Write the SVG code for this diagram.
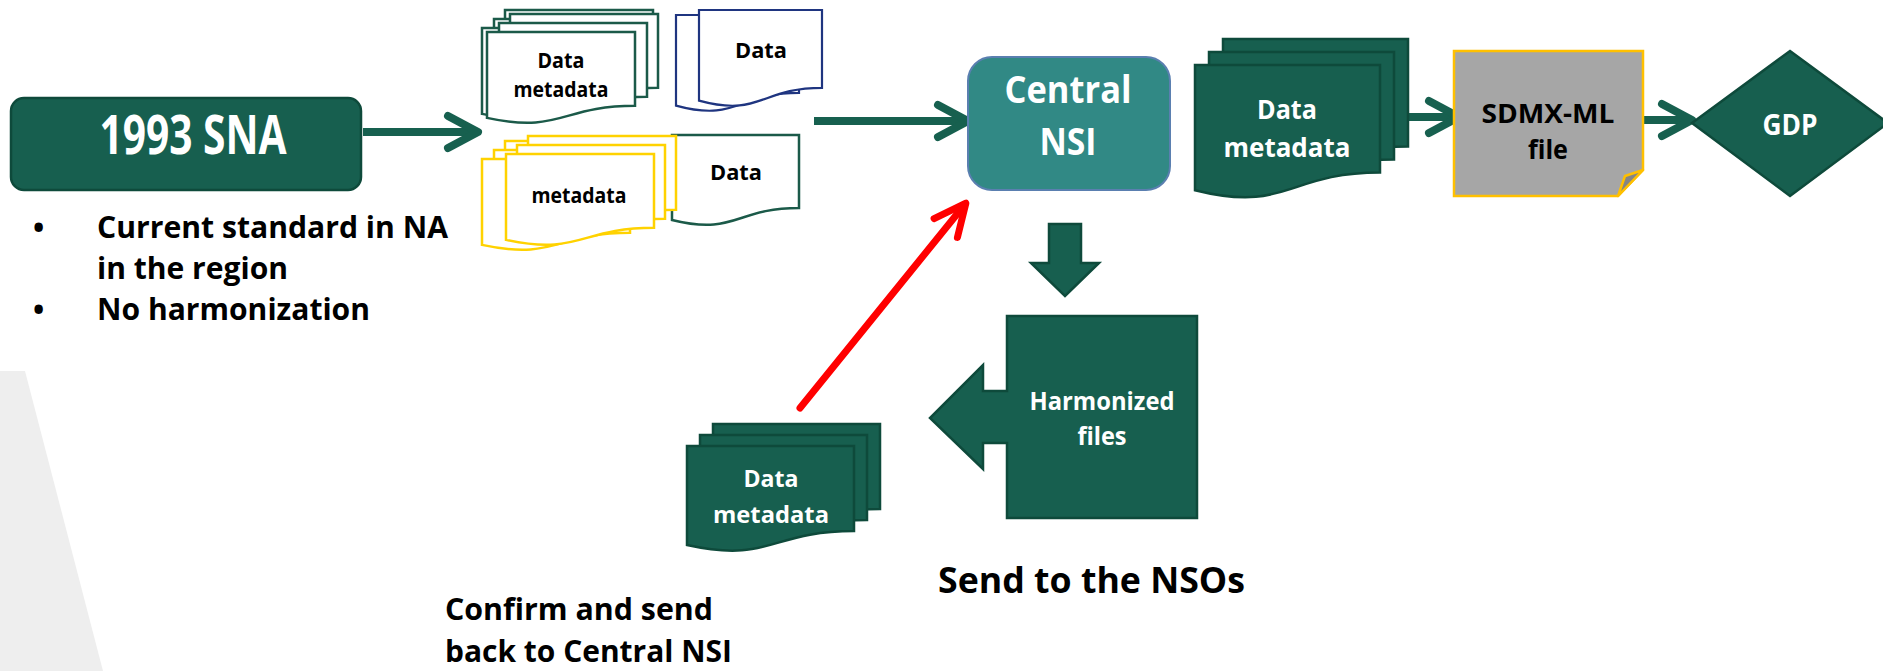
<svg xmlns="http://www.w3.org/2000/svg" xmlns:xlink="http://www.w3.org/1999/xlink" width="1883" height="671" viewBox="0 0 1883 671">
<style>
text{font-family:"Open Sans","Liberation Sans",Arial,sans-serif;font-weight:bold;}
.w{fill:#ffffff;text-anchor:middle;}
.k{fill:#000000;text-anchor:middle;}
.ks{fill:#000000;text-anchor:start;}
.dg{fill:#175f4f;stroke:#0e4a3b;stroke-width:2.5;}
.og{fill:#ffffff;stroke:#1b5a49;stroke-width:2.5;}
.oy{fill:#ffffff;stroke:#ffd200;stroke-width:2.5;}
.ob{fill:#ffffff;stroke:#1f3580;stroke-width:2.2;}
.conn{fill:none;stroke:#17604f;stroke-width:8;}
.red{fill:none;stroke:#ff0000;stroke-width:7;stroke-linecap:round;}
</style>
<defs>
<path id="docS" d="M0,0H148V73.8C74,73.8 74,101.9 0,85.9Z"/>
<path id="docB" d="M0,0H123V77.8C61.5,77.8 61.5,107.4 0,90.6Z"/>
<path id="docG" d="M0,0H127V73C63.5,73 63.5,100.8 0,85Z"/>
<path id="docR" d="M0,0H185V107.5C92.5,107.5 92.5,148.4 0,125.2Z"/>
<path id="docL" d="M0,0H167V85C83.5,85 83.5,117.4 0,99Z"/>
<marker id="chev" markerUnits="userSpaceOnUse" viewBox="0 0 40 40" markerWidth="40" markerHeight="40" refX="30" refY="20" orient="auto" overflow="visible">
<path d="M3,4 L33,20 L3,36" fill="none" stroke="#17604f" stroke-width="8" stroke-linecap="round" stroke-linejoin="round"/>
</marker>
<marker id="chevR" markerUnits="userSpaceOnUse" viewBox="0 0 40 40" markerWidth="40" markerHeight="40" refX="31" refY="20" orient="auto" overflow="visible">
<path d="M2,5 L34,20 L2,35" fill="none" stroke="#ff0000" stroke-width="7" stroke-linecap="round" stroke-linejoin="round"/>
</marker>
</defs>

<rect width="1883" height="671" fill="#ffffff"/>
<polygon points="0,371 25,371 103,671 0,671" fill="#eeeeee"/>

<g id="connectors">
<path class="conn" d="M363,132 H475" marker-end="url(#chev)"/>
<path class="conn" d="M814,121 H965" marker-end="url(#chev)"/>
<path class="conn" d="M1409,117 H1456" marker-end="url(#chev)"/>
<path class="conn" d="M1643,120 H1689" marker-end="url(#chev)"/>
<path class="red" d="M800,408 L964,205.5" marker-end="url(#chevR)"/>
<polygon class="dg" stroke-width="1.5" points="1049,224 1081,224 1081,263 1099,263 1065,296 1031,263 1049,263"/>
</g>

<g id="node-sna">
<rect x="11" y="98" width="350" height="92" rx="13" class="dg" stroke-width="2"/>
<text class="w" x="193" y="154" font-size="54" textLength="187" lengthAdjust="spacingAndGlyphs">1993 SNA</text>
<text class="ks" x="33" y="238" font-size="30">•</text>
<text class="ks" x="97" y="238" font-size="30" textLength="351" lengthAdjust="spacingAndGlyphs">Current standard in NA</text>
<text class="ks" x="97" y="279" font-size="30" textLength="191" lengthAdjust="spacingAndGlyphs">in the region</text>
<text class="ks" x="33" y="320" font-size="30">•</text>
<text class="ks" x="97" y="320" font-size="30" textLength="273" lengthAdjust="spacingAndGlyphs">No harmonization</text>
</g>

<g id="node-data-metadata-1">
<use href="#docS" x="505" y="10" class="og"/>
<use href="#docS" x="494" y="19" class="og"/>
<use href="#docS" x="482" y="28" class="og"/>
<use href="#docS" x="510" y="14" class="og"/>
<use href="#docS" x="499" y="23" class="og"/>
<use href="#docS" x="487" y="32" class="og"/>
<text class="k" x="561" y="68" font-size="21" textLength="47" lengthAdjust="spacingAndGlyphs">Data</text>
<text class="k" x="561" y="97" font-size="21" textLength="95" lengthAdjust="spacingAndGlyphs">metadata</text>
</g>

<g id="node-data-blue">
<use href="#docB" x="676" y="15" class="ob"/>
<use href="#docB" x="699" y="10" class="ob"/>
<text class="k" x="761" y="58" font-size="21" textLength="52" lengthAdjust="spacingAndGlyphs">Data</text>
</g>

<g id="node-data-green">
<use href="#docG" x="672" y="135" class="og"/>
<text class="k" x="736" y="180" font-size="21" textLength="52" lengthAdjust="spacingAndGlyphs">Data</text>
</g>

<g id="node-metadata-yellow">
<use href="#docS" x="505" y="141" class="oy"/>
<use href="#docS" x="494" y="150" class="oy"/>
<use href="#docS" x="482" y="159" class="oy"/>
<use href="#docS" x="528" y="136" class="oy"/>
<use href="#docS" x="517" y="145" class="oy"/>
<use href="#docS" x="506" y="154" class="oy"/>
<text class="k" x="579" y="203" font-size="21" textLength="95" lengthAdjust="spacingAndGlyphs">metadata</text>
</g>

<g id="node-central-nsi">
<rect x="968" y="57" width="202" height="133" rx="24" fill="#318985" stroke="#5a7fb0" stroke-width="2"/>
<text class="w" x="1068" y="103" font-size="37" textLength="127" lengthAdjust="spacingAndGlyphs">Central</text>
<text class="w" x="1068" y="155" font-size="37" textLength="57" lengthAdjust="spacingAndGlyphs">NSI</text>
</g>

<g id="node-data-metadata-2">
<use href="#docR" x="1223" y="39" class="dg"/>
<use href="#docR" x="1209" y="52" class="dg"/>
<use href="#docR" x="1195" y="65" class="dg"/>
<text class="w" x="1287" y="119" font-size="27" textLength="60" lengthAdjust="spacingAndGlyphs">Data</text>
<text class="w" x="1287" y="157" font-size="27" textLength="127" lengthAdjust="spacingAndGlyphs">metadata</text>
</g>

<g id="node-sdmx">
<polygon points="1454,51 1643,51 1643,170 1618,196 1454,196" fill="#a6a6a6" stroke="#ffc000" stroke-width="2.5"/>
<polygon points="1643,170 1625,176 1618,196" fill="#858585" stroke="#ffc000" stroke-width="2.5" stroke-linejoin="round"/>
<text class="k" x="1548" y="123" font-size="27" textLength="133" lengthAdjust="spacingAndGlyphs">SDMX-ML</text>
<text class="k" x="1548" y="159" font-size="27" textLength="40" lengthAdjust="spacingAndGlyphs">file</text>
</g>

<g id="node-gdp">
<polygon points="1790,51 1888,123 1790,196 1692,123" class="dg" stroke-width="2"/>
<text class="w" x="1790" y="135" font-size="28" textLength="55" lengthAdjust="spacingAndGlyphs">GDP</text>
</g>

<g id="node-harmonized">
<polygon points="1007,316 1197,316 1197,518 1007,518 1007,443 983,443 983,469 930,418 983,365 983,391 1007,391" class="dg" stroke-width="2"/>
<text class="w" x="1102" y="410" font-size="25" textLength="145" lengthAdjust="spacingAndGlyphs">Harmonized</text>
<text class="w" x="1102" y="445" font-size="25" textLength="49" lengthAdjust="spacingAndGlyphs">files</text>
</g>

<g id="node-data-metadata-3">
<use href="#docL" x="713" y="424" class="dg"/>
<use href="#docL" x="700" y="435" class="dg"/>
<use href="#docL" x="687" y="446" class="dg"/>
<text class="w" x="771" y="487" font-size="24" textLength="55" lengthAdjust="spacingAndGlyphs">Data</text>
<text class="w" x="771" y="523" font-size="24" textLength="116" lengthAdjust="spacingAndGlyphs">metadata</text>
</g>

<g id="label-send">
<text class="ks" x="938" y="593" font-size="35" textLength="307" lengthAdjust="spacingAndGlyphs">Send to the NSOs</text>
</g>

<g id="label-confirm">
<text class="ks" x="445" y="620" font-size="30" textLength="268" lengthAdjust="spacingAndGlyphs">Confirm and send</text>
<text class="ks" x="445" y="662" font-size="30" textLength="287" lengthAdjust="spacingAndGlyphs">back to Central NSI</text>
</g>
</svg>
